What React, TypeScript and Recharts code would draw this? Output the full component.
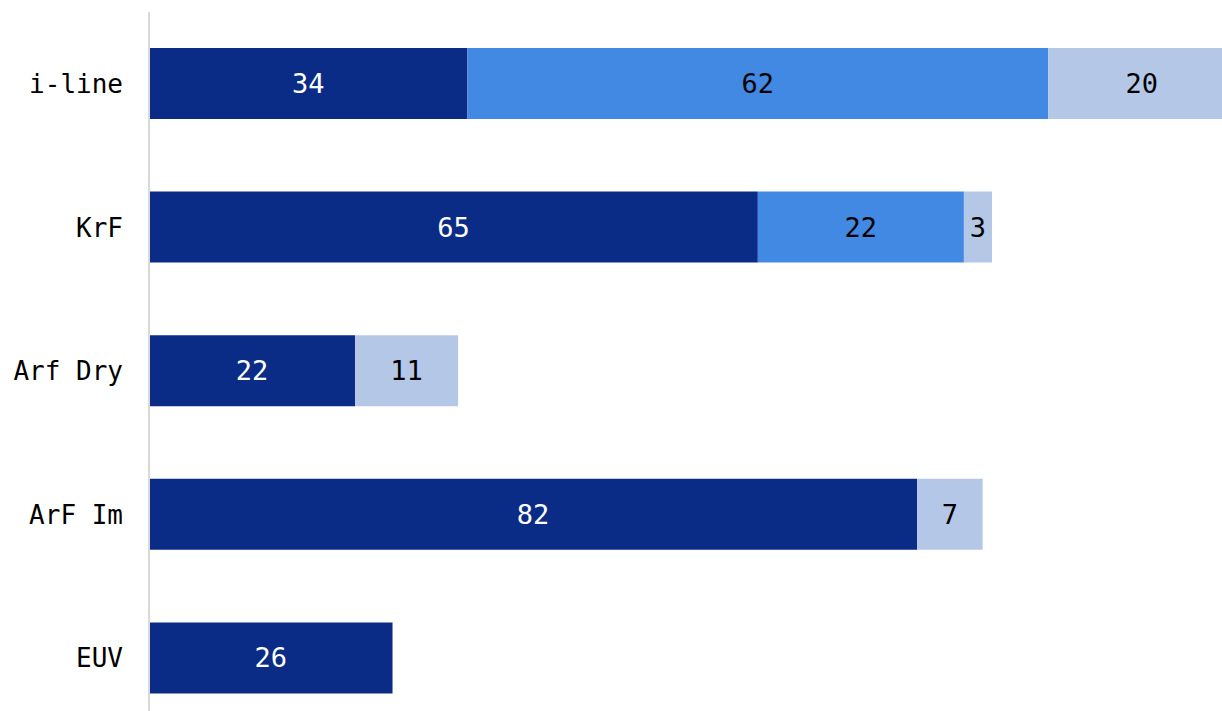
import React from 'react';
import { BarChart, Bar, XAxis, YAxis, LabelList } from 'recharts';

const categories = ['i-line', 'KrF', 'Arf Dry', 'ArF Im', 'EUV'];
const seriesA = [34, 65, 22, 82, 26];
const seriesB = [62, 22, 0, 0, 0];
const seriesC = [20, 3, 11, 7, 0];

const chartData = categories.map((name, i) => ({
  name,
  a: seriesA[i],
  b: seriesB[i],
  c: seriesC[i],
}));

const FONT = '"DejaVu Sans Mono", "Liberation Mono", monospace';
const hideZero = (v: any) => (v ? v : '');

const App: React.FC = () => {
  return (
    <div style={{ position: 'fixed', left: 0, top: 0, width: 1222, height: 711, overflow: 'hidden', background: '#fff' }}>
      <BarChart
        width={1273}
        height={741}
        data={chartData}
        layout="vertical"
        margin={{ top: 12, right: 0, bottom: 11, left: 0 }}
        barSize={71}
      >
        <XAxis type="number" domain={[0, 120]} hide />
        <YAxis
          type="category"
          dataKey="name"
          width={149}
          axisLine={{ stroke: '#D9D9D9', strokeWidth: 2 }}
          tickLine={false}
          tickSize={0}
          tickMargin={26}
          tick={{ fill: '#000', fontSize: 26, fontFamily: FONT }}
        />
        <Bar dataKey="a" stackId="s" fill="#0A2C86" isAnimationActive={false}>
          <LabelList dataKey="a" position="center" fill="#fff" fontSize={27} fontFamily={FONT} formatter={hideZero} />
        </Bar>
        <Bar dataKey="b" stackId="s" fill="#4189E2" isAnimationActive={false}>
          <LabelList dataKey="b" position="center" fill="#000" fontSize={27} fontFamily={FONT} formatter={hideZero} />
        </Bar>
        <Bar dataKey="c" stackId="s" fill="#B4C7E7" isAnimationActive={false}>
          <LabelList dataKey="c" position="center" fill="#000" fontSize={27} fontFamily={FONT} formatter={hideZero} />
        </Bar>
      </BarChart>
    </div>
  );
};

export default App;
